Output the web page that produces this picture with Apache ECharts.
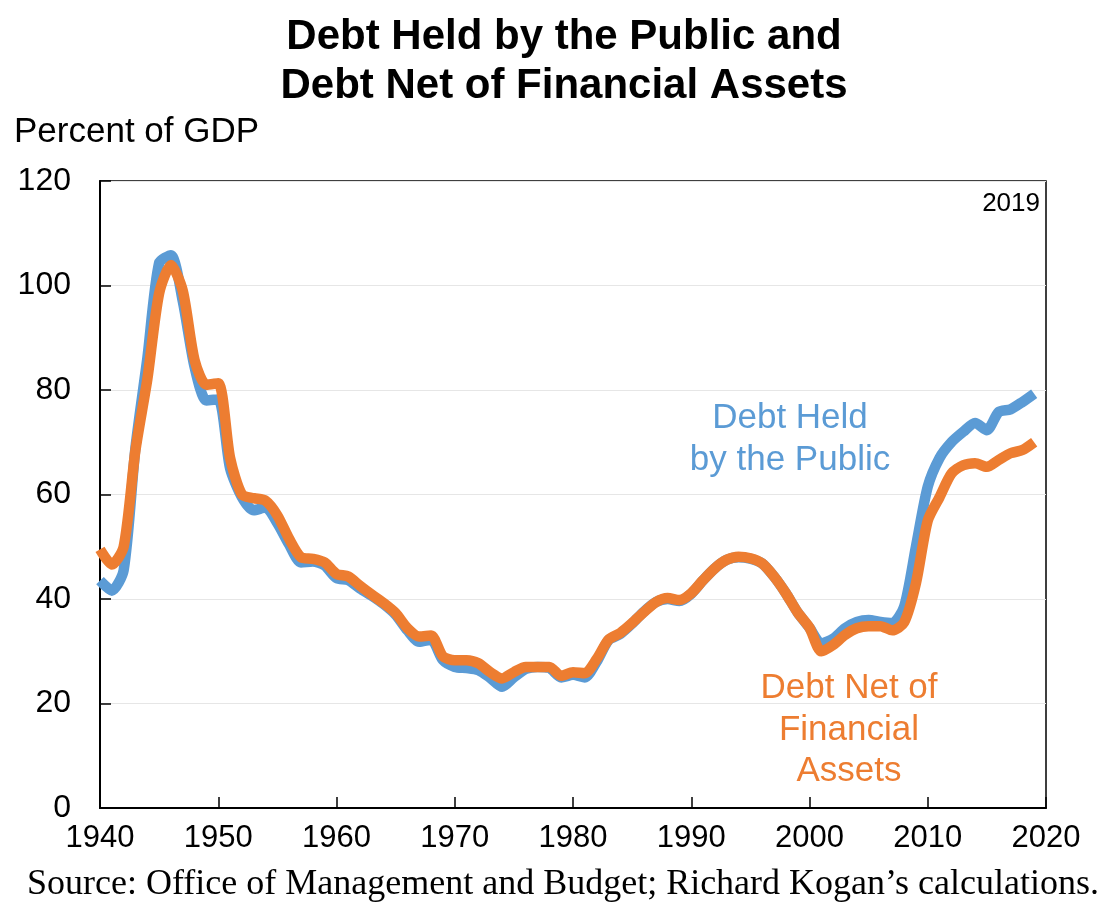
<!DOCTYPE html>
<html><head><meta charset="utf-8">
<script src="https://cdn.jsdelivr.net/npm/echarts@6/dist/echarts.min.js"></script>
<style>html,body{margin:0;padding:0;background:#fff}#c{width:1120px;height:920px}</style>
</head><body><div id="c"></div>
<script>
const years = [];
for (let y = 1940; y <= 2019; y++) years.push(y);
const debtHeldByPublic = [
 43.5,41.6,45.5,69.0,86.0,104.3,105.8,97.0,84.4,78.0,
 78.2,65.0,59.5,57.0,57.5,54.5,50.4,47.0,47.2,46.4,
 44.0,43.6,42.0,40.6,39.0,37.0,34.0,31.8,32.2,28.3,
 27.0,26.8,26.4,24.9,23.2,25.0,26.6,27.0,26.8,25.0,
 25.5,25.0,28.0,32.1,33.3,35.3,37.6,39.4,40.0,39.6,
 41.0,43.6,45.9,47.5,48.0,47.7,46.8,44.3,41.1,37.4,
 34.5,31.5,32.4,34.4,35.6,36.0,35.6,35.4,38.5,50.0,
 61.5,67.0,70.0,72.0,73.7,72.3,75.8,76.3,77.7,79.3
];
const debtNetOfFinancialAssets = [
 49.5,46.6,50.0,68.5,82.0,98.5,103.9,99.0,85.7,81.0,
 81.3,67.0,60.0,59.3,58.8,56.0,51.5,48.0,47.7,47.0,
 44.8,44.3,42.5,40.8,39.2,37.3,34.4,32.8,33.0,29.0,
 28.3,28.3,27.7,26.0,24.8,26.0,27.0,27.0,27.0,25.3,
 26.0,25.8,28.5,32.2,33.5,35.4,37.5,39.4,40.2,39.8,
 41.1,43.6,45.9,47.5,48.1,47.8,46.8,44.3,41.1,37.4,
 34.5,30.0,31.2,33.1,34.4,34.8,34.8,34.0,35.5,43.0,
 55.0,59.5,64.0,65.6,66.0,65.3,66.6,67.9,68.5,70.0
];
const yTicks = [0,20,40,60,80,100,120];
const xTicks = [1940,1950,1960,1970,1980,1990,2000,2010,2020];
const titleLines = ['Debt Held by the Public and','Debt Net of Financial Assets'];
const blueLabel = ['Debt Held','by the Public'];
const orangeLabel = ['Debt Net of','Financial','Assets'];
const yearNote = '2019';
const unitLabel = 'Percent of GDP';
const sourceText = 'Source: Office of Management and Budget; Richard Kogan\u2019s calculations.';

const BLUE = '#5B9BD5', ORANGE = '#ED7D31';
const chart = echarts.init(document.getElementById('c'), null, {renderer:'canvas'});
const pair = arr => years.map((y,i)=>[y,arr[i]]);
const sans = 'Liberation Sans, Arial, sans-serif';
chart.setOption({
  animation:false,
  backgroundColor:'#fff',
  grid:{left:100,right:74,top:181,bottom:112,show:true,borderColor:'#000',borderWidth:1.5,backgroundColor:'transparent'},
  xAxis:{type:'value',min:xTicks[0],max:xTicks[xTicks.length-1],interval:10,
    axisLine:{lineStyle:{color:'#000',width:2}},
    axisTick:{inside:true,length:11,lineStyle:{color:'#000',width:1.5}},
    splitLine:{show:false},
    axisLabel:{color:'#000',fontFamily:sans,fontSize:31,margin:15,formatter:v=>String(v)}},
  yAxis:{type:'value',min:yTicks[0],max:yTicks[yTicks.length-1],interval:20,
    axisLine:{show:true,lineStyle:{color:'#000',width:2}},
    axisTick:{show:true,inside:true,length:11,lineStyle:{color:'#000',width:1.5}},
    splitLine:{show:true,lineStyle:{color:'#e6e6e6',width:1}},
    axisLabel:{color:'#000',fontFamily:sans,fontSize:32,margin:29}},
  series:[
    {type:'line',data:pair(debtHeldByPublic),showSymbol:false,smooth:0.25,lineStyle:{color:BLUE,width:10.5},z:2},
    {type:'line',data:pair(debtNetOfFinancialAssets),showSymbol:false,smooth:0.25,lineStyle:{color:ORANGE,width:10.5},z:3}
  ],
  graphic:[
    {type:'text',x:564,y:13,style:{text:titleLines.join('\n'),font:'bold 42px '+sans,fill:'#000',textAlign:'center',lineHeight:49}},
    {type:'text',x:14,y:115,style:{text:unitLabel,font:'35px '+sans,fill:'#000'}},
    {type:'text',x:1040,y:191,style:{text:yearNote,font:'26px '+sans,fill:'#000',textAlign:'right'}},
    {type:'text',x:790,y:397,style:{text:blueLabel.join('\n'),font:'35px '+sans,fill:BLUE,textAlign:'center',lineHeight:42}},
    {type:'text',x:849,y:668,style:{text:orangeLabel.join('\n'),font:'35px '+sans,fill:ORANGE,textAlign:'center',lineHeight:41.5}},
    {type:'text',x:563,y:867,style:{text:sourceText,font:'36px Liberation Serif, Times New Roman, serif',fill:'#000',textAlign:'center'}}
  ]
});
</script></body></html>
